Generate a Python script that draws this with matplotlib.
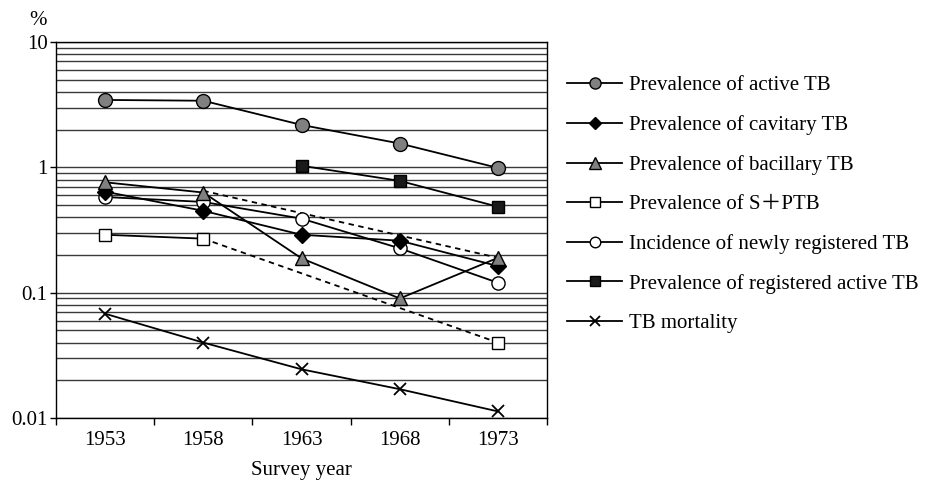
import numpy as np
import matplotlib
matplotlib.use("Agg")
import matplotlib.pyplot as plt
from matplotlib.ticker import FixedLocator, NullFormatter, LogLocator

plt.rcParams["font.family"] = ["Liberation Serif", "Noto Sans CJK JP"]

# ---------- data -------------------------------------------------------------
years = ["1953", "1958", "1963", "1968", "1973"]

active_tb = [3.45, 3.4, 2.18, 1.55, 0.99]
cavitary_tb = [0.64, 0.45, 0.29, 0.26, 0.163]
bacillary_tb = [0.76, 0.63, 0.188, 0.09, 0.19]
bacillary_trend = [None, 0.65, None, None, 0.19]      # dashed link 1958 -> 1973
sptb = [0.29, 0.27, None, None, 0.04]                  # dashed 1958 -> 1973
newly_registered = [0.58, 0.53, 0.39, 0.226, 0.12]
registered_active = [None, None, 1.03, 0.78, 0.485]
mortality = [0.068, 0.040, 0.0245, 0.017, 0.0113]

labels = [
    "Prevalence of active TB",
    "Prevalence of cavitary TB",
    "Prevalence of bacillary TB",
    "Prevalence of S\uff0bPTB",
    "Incidence of newly registered TB",
    "Prevalence of registered active TB",
    "TB mortality",
]


def arr(vals):
    return np.array([np.nan if v is None else v for v in vals], dtype=float)


x = np.arange(len(years))

fig = plt.figure(figsize=(9.25, 4.8), dpi=100)
ax = fig.add_axes([0.0605, 0.129, 0.531, 0.7835])

lw = 1.3
ms = 9.5
common = dict(color="black", linewidth=lw, markeredgecolor="black", markeredgewidth=1.0)

# dashed links (drawn under markers)
bt = arr(bacillary_trend)
ok = ~np.isnan(bt)
ax.plot(x[ok], bt[ok], color="black", linewidth=lw, linestyle=(0, (3, 2.5)), zorder=2)
sp = arr(sptb)
ax.plot(x[1::3], sp[1::3], color="black", linewidth=lw, linestyle=(0, (3, 2.5)), zorder=2)

handles = []
h, = ax.plot(x, arr(active_tb), marker="o", markersize=ms + 0.5, markerfacecolor="#808080", zorder=3, **common)
handles.append(h)
h, = ax.plot(x, arr(cavitary_tb), marker="D", markersize=ms - 1.5, markerfacecolor="black", zorder=4, **common)
handles.append(h)
h, = ax.plot(x, arr(bacillary_tb), marker="^", markersize=ms + 0.5, markerfacecolor="#808080", zorder=5, **common)
handles.append(h)
h, = ax.plot(x[:2], sp[:2], marker="s", markersize=ms - 1, markerfacecolor="white", zorder=3, **common)
ax.plot(x[4:], sp[4:], marker="s", markersize=ms - 1, markerfacecolor="white", zorder=3, **common)
handles.append(h)
h, = ax.plot(x, arr(newly_registered), marker="o", markersize=ms, markerfacecolor="white", zorder=3, **common)
handles.append(h)
ra = arr(registered_active)
h, = ax.plot(x[2:], ra[2:], marker="s", markersize=ms - 1, markerfacecolor="#1a1a1a", zorder=3, **common)
handles.append(h)
h, = ax.plot(x, arr(mortality), marker="x", markersize=ms - 1, markeredgewidth=1.3, color="black",
             linewidth=lw, zorder=3)
handles.append(h)

# ---------- axes cosmetics ---------------------------------------------------
ax.set_yscale("log")
ax.set_ylim(0.01, 10)
ax.set_xlim(-0.5, 4.5)

ax.yaxis.set_major_locator(FixedLocator([0.01, 0.1, 1, 10]))
ax.yaxis.set_minor_locator(LogLocator(base=10, subs=np.arange(2, 10)))
ax.yaxis.set_minor_formatter(NullFormatter())
ax.set_yticklabels(["0.01", "0.1", "1", "10"])
ax.tick_params(axis="y", which="major", direction="out", length=4, width=1, labelsize=15, pad=2)
ax.tick_params(axis="y", which="minor", length=0)
ax.grid(True, axis="y", which="both", color="#3a3a3a", linewidth=1.0)
ax.set_axisbelow(True)

ax.xaxis.set_major_locator(FixedLocator(np.arange(-0.5, 5.0, 1.0)))
ax.xaxis.set_major_formatter(NullFormatter())
ax.xaxis.set_minor_locator(FixedLocator(x))
ax.set_xticklabels(years, minor=True)
ax.tick_params(axis="x", which="major", direction="out", length=5, width=1)
ax.tick_params(axis="x", which="minor", length=0, labelsize=15, pad=9)

for s in ax.spines.values():
    s.set_color("black")
    s.set_linewidth(1.0)

ax.set_xlabel("Survey year", fontsize=15, labelpad=8)
fig.text(0.041, 0.958, "%", fontsize=15, ha="center", va="center")

fig.legend(handles, labels, loc="upper left", bbox_to_anchor=(0.613, 0.842), frameon=False,
           fontsize=15, handlelength=2.65, handletextpad=0.33, labelspacing=0.95, borderpad=0,
           borderaxespad=0, markerscale=0.8)

fig.savefig("out.png", dpi=100)
